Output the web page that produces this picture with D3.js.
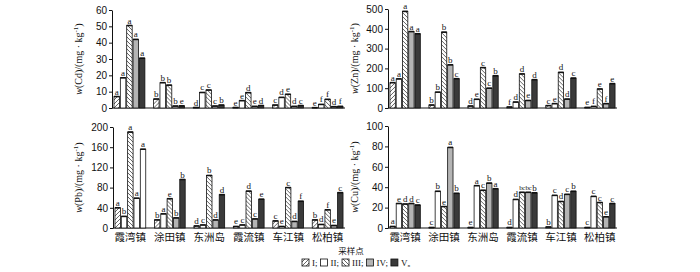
<!DOCTYPE html>
<html lang="zh">
<head>
<meta charset="UTF-8">
<title>重金属含量</title>
<script src="https://d3js.org/d3.v7.min.js"></script>
<style>
    body { margin: 0; padding: 0; background: #fff; }
    svg { font-family: "Liberation Serif", "DejaVu Serif", serif; }
    .cat { font-family: "Noto Sans CJK SC", sans-serif; }
</style>
</head>
<body>
<svg width="700" height="272"></svg>
<script>
const sites = ["霞湾镇", "涂田镇", "东洲岛", "霞流镇", "车江镇", "松柏镇"];
const treatments = ["I", "II", "III", "IV", "V"];

// values per site: [I, II, III, IV, V]
const cdValues = [[7, 18.5, 50.5, 42, 30.5], [5.5, 15.5, 14, 1.2, 1.3], [0.3, 9.5, 11, 1.2, 1.8],
    [0.3, 4.5, 9.4, 1, 1.5], [1.8, 6.5, 8.4, 1, 1.5], [0.2, 2.2, 5.3, 0.8, 1]];
const cdLetters = [["a", "a", "a", "a", "a"], ["b", "b", "b", "b", "e"], ["d", "c", "c", "c", "b"],
    ["e", "e", "d", "e", "d"], ["c", "d", "e", "d", "c"], ["e", "f", "f", "d", "f"]];

const znValues = [[128, 147, 488, 386, 375], [15, 80, 383, 218, 148], [10, 44, 204, 100, 163],
    [5, 30, 172, 38, 143], [12, 22, 180, 45, 151], [3, 8, 96, 22, 123]];
const znLetters = [["a", "a", "a", "a", "a"], ["b", "b", "b", "b", "c"], ["d", "e", "c", "c", "b"],
    ["f", "d", "d", "e", "d"], ["c", "e", "d", "d", "c"], ["e", "f", "e", "f", "e"]];

const pbValues = [[40, 23, 190, 59, 156], [16, 28, 58, 20, 96], [4, 6, 104, 16, 66],
    [3, 6, 73, 18, 57], [14, 3, 80, 13, 53], [16, 7, 36, 5, 70]];
const pbLetters = [["a", "b", "a", "a", "a"], ["b", "a", "e", "b", "b"], ["d", "c", "b", "d", "d"],
    ["e", "c", "d", "c", "e"], ["c", "e", "c", "d", "f"], ["b", "d", "f", "e", "c"]];

const cuValues = [[1.5, 24, 23.5, 24, 22.5], [0.5, 36, 21, 79, 34], [0.5, 41.5, 37, 44, 38.5],
    [0.5, 28, 35, 35, 34.5], [1, 32, 26, 33, 36], [0.5, 31, 25, 11, 24]];
const cuLetters = [["a", "e", "d", "d", "c"], ["c", "b", "e", "a", "b"], ["e", "a", "c", "b", "a"],
    ["d", "d", "bc", "bc", "b"], ["b", "c", "d", "c", "b"], ["c", "c", "c", "e", "c"]];

const cdTicks = [0, 10, 20, 30, 40, 50, 60];
const znTicks = [0, 100, 200, 300, 400, 500];
const pbTicks = [0, 40, 80, 120, 160, 200];
const cuTicks = [0, 20, 40, 60, 80, 100];

const svg = d3.select("svg");
const defs = svg.append("defs");

function hatch(id, dir) {
    const p = defs.append("pattern").attr("id", id)
        .attr("patternUnits", "userSpaceOnUse").attr("width", 4).attr("height", 4);
    p.append("rect").attr("width", 4).attr("height", 4).attr("fill", "#fff");
    const d = dir > 0 ? "M-1,1 l2,-2 M0,4 l4,-4 M3,5 l2,-2" : "M-1,3 l2,2 M0,0 l4,4 M3,-1 l2,2";
    p.append("path").attr("d", d).attr("stroke", "#222").attr("stroke-width", 0.7);
}
hatch("h1", 1);
hatch("h3", -1);

const fills = ["url(#h1)", "#fff", "url(#h3)", "#b4b4b4", "#3a3a3a"];

const panels = [
    { el: "Cd", values: cdValues, letters: cdLetters, ticks: cdTicks, left: 112, right: 345, top: 10, bottom: 108, labelX: 82, pale: [] },
    { el: "Zn", values: znValues, letters: znLetters, ticks: znTicks, left: 388, right: 617, top: 9, bottom: 108, labelX: 358, pale: [] },
    { el: "Pb", values: pbValues, letters: pbLetters, ticks: pbTicks, left: 113, right: 345, top: 127, bottom: 228, labelX: 82, pale: [3, 4], cats: true },
    { el: "Cu", values: cuValues, letters: cuLetters, ticks: cuTicks, left: 388, right: 617, top: 126, bottom: 228, labelX: 358, pale: [], cats: true }
];

panels.forEach(p => {
    const g = svg.append("g");
    const x0 = d3.scaleBand().domain(sites).range([p.left, p.right]).paddingInner(0.22).paddingOuter(0.05);
    const x1 = d3.scaleBand().domain(treatments).range([0, x0.bandwidth()]).paddingInner(0.14);
    const y = d3.scaleLinear().domain([0, d3.max(p.ticks)]).range([p.bottom, p.top]);

    const axis = g.append("g")
        .attr("transform", `translate(${p.left},0)`)
        .call(d3.axisLeft(y).tickValues(p.ticks).tickSize(3).tickSizeOuter(0).tickPadding(2));
    axis.selectAll("text").attr("font-size", 10).attr("fill", "#111");
    axis.selectAll("line,path").attr("stroke", "#111");

    g.append("line")
        .attr("x1", p.left).attr("x2", p.right)
        .attr("y1", y(0)).attr("y2", y(0))
        .attr("stroke", "#111");

    sites.forEach((site, i) => {
        const grp = g.append("g").attr("transform", `translate(${x0(site)},0)`);
        treatments.forEach((t, j) => {
            const v = p.values[i][j];
            const bx = x1(t), bw = x1.bandwidth();
            const fill = (i === 0 && p.pale.includes(j)) ? "#fff" : fills[j];
            grp.append("rect")
                .attr("x", bx).attr("y", y(v))
                .attr("width", bw).attr("height", y(0) - y(v))
                .attr("fill", fill)
                .attr("stroke", "#111").attr("stroke-width", 0.8);
            grp.append("line")
                .attr("x1", bx).attr("x2", bx + bw)
                .attr("y1", y(v)).attr("y2", y(v))
                .attr("stroke", "#111").attr("stroke-width", 1.6);
            const letter = p.letters[i][j];
            grp.append("text")
                .attr("x", bx + bw / 2).attr("y", y(v) - 2)
                .attr("text-anchor", "middle")
                .attr("font-size", letter.length > 1 ? 7 : 9)
                .attr("letter-spacing", letter.length > 1 ? -0.6 : 0)
                .attr("fill", "#111")
                .text(letter);
        });
        if (p.cats) {
            g.append("text").attr("class", "cat")
                .attr("x", x0(site) + x0.bandwidth() / 2).attr("y", p.bottom + 13)
                .attr("text-anchor", "middle")
                .attr("font-size", 10.5)
                .attr("fill", "#111")
                .text(site);
        }
    });

    const lab = g.append("text")
        .attr("transform", `translate(${p.labelX},${(p.top + p.bottom) / 2}) rotate(-90)`)
        .attr("text-anchor", "middle")
        .attr("font-size", 10)
        .attr("fill", "#111");
    lab.append("tspan").attr("font-style", "italic").text("w");
    lab.append("tspan").text(`(${p.el})/(mg · kg`);
    lab.append("tspan").attr("font-size", 7).attr("dy", -4).text("-1");
    lab.append("tspan").attr("dy", 4).text(")");
});

svg.append("text").attr("class", "cat")
    .attr("x", 351).attr("y", 254)
    .attr("text-anchor", "middle")
    .attr("font-size", 8.5)
    .attr("fill", "#111")
    .text("采样点");

// legend
const legend = svg.append("g").attr("transform", "translate(302,266)");
let lx = 0;
treatments.forEach((t, j) => {
    legend.append("rect")
        .attr("x", lx).attr("y", -7)
        .attr("width", 7).attr("height", 7)
        .attr("fill", fills[j]).attr("stroke", "#111").attr("stroke-width", 0.8);
    lx += 10;
    const tx = legend.append("text").attr("x", lx).attr("y", 0)
        .attr("font-size", 9).attr("fill", "#111");
    tx.append("tspan").text(t);
    tx.append("tspan").text(j < 4 ? ";" : "。");
    lx += tx.node().getComputedTextLength() + 3;
});
</script>
</body>
</html>
